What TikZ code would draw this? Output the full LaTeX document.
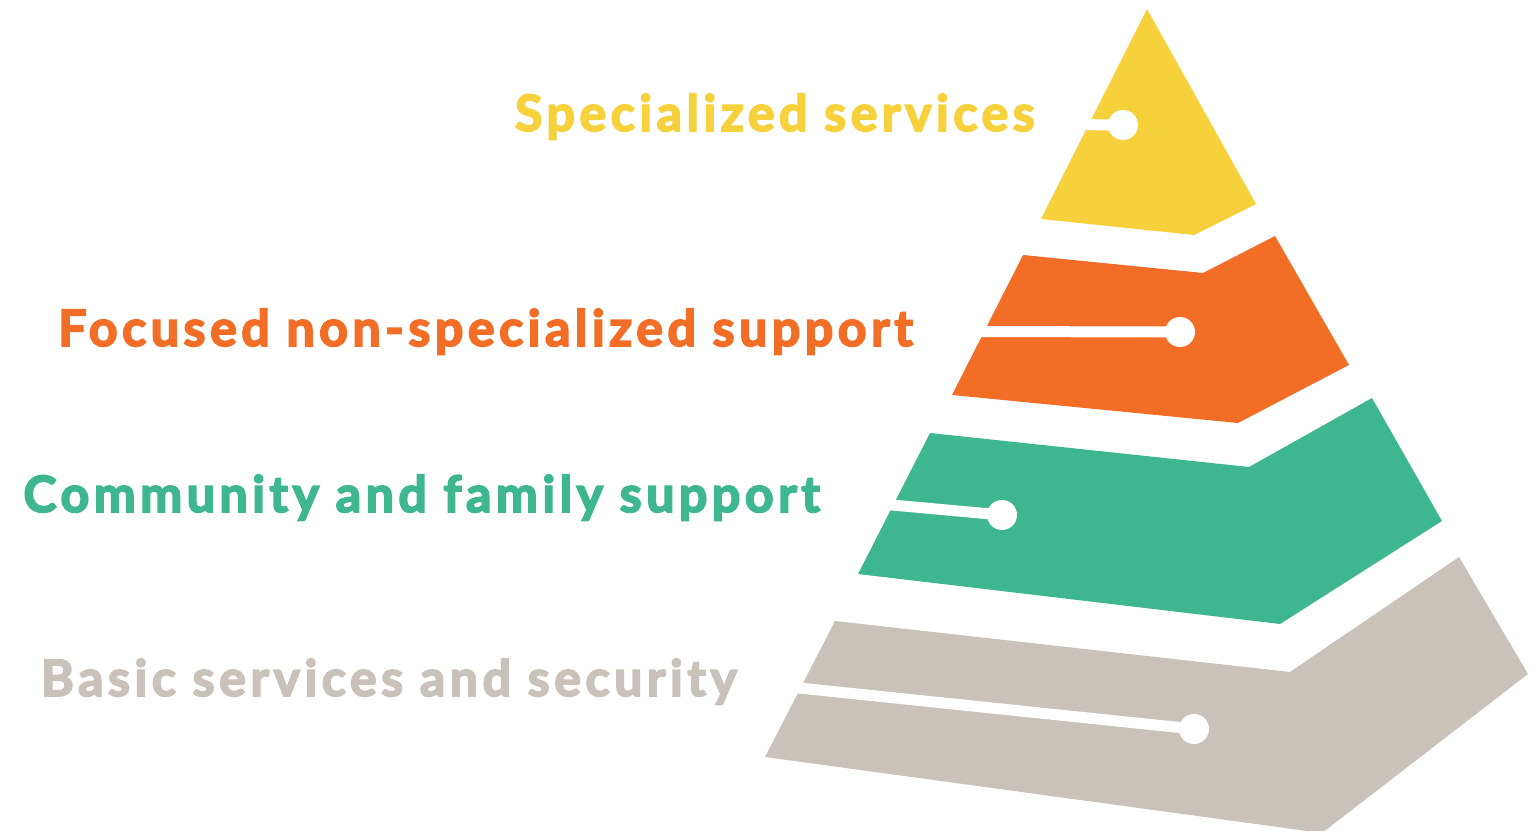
\documentclass[tikz,border=0pt]{standalone}
\usepackage{fontspec}
\setmainfont{Lato}[BoldFeatures={FakeBold=3.5,LetterSpace=9}]
\definecolor{specyellow}{HTML}{F6D13B}
\definecolor{focusorange}{HTML}{F26E27}
\definecolor{commgreen}{HTML}{3EB68F}
\definecolor{basicgrey}{HTML}{C8C2BB}
\begin{document}
\begin{tikzpicture}[x=0.02cm,y=-0.02cm,font=\fontsize{28.5}{28.5}\selectfont\bfseries,
    slot/.style={white,line width=0.22cm},
    dot/.style={circle,fill=white,inner sep=0pt,minimum size=0.6cm},
    tier/.style={anchor=base east,inner sep=0pt}]
    \useasboundingbox (0,0) rectangle (1535,831);
    % pyramid layers
    \fill[specyellow] (1147,9) -- (1256,204) -- (1194,235) -- (1041,219) -- cycle;
    \fill[focusorange] (1023,255) -- (1203,273) -- (1275,236) -- (1349,365) -- (1238,423) -- (952,395) -- cycle;
    \fill[commgreen] (930,433) -- (1249,467) -- (1372,398) -- (1442,521) -- (1280,624) -- (858,574) -- cycle;
    \fill[basicgrey] (835,621) -- (1290,672) -- (1459,557) -- (1528,674) -- (1322,833) -- (765,757) -- cycle;
    % slots with dots
    \node[dot] (specdot) at (1123,125) {};
    \node[dot] (focusdot) at (1180,332) {};
    \node[dot] (commdot) at (1002,515) {};
    \node[dot] (basicdot) at (1194,729) {};
    \coordinate (specin) at (1070,124.5);
    \coordinate (focusin) at (960,331.5);
    \coordinate (commin) at (870,503);
    \coordinate (basicin) at (780,686);
    \draw[slot] (specin) -- (specdot.center);
    \draw[slot] (focusin) -- (focusdot.center);
    \draw[slot] (commin) -- (commdot.center);
    \draw[slot] (basicin) -- (basicdot.center);
    % labels
    \node[tier,text=specyellow] (spec) at (1035,131) {Specialized services};
    \node[tier,text=focusorange] (focus) at (913,346) {Focused non-specialized support};
    \node[tier,text=commgreen] (comm) at (820,512) {Community and family support};
    \node[tier,text=basicgrey] (basic) at (737,696) {Basic services and security};
\end{tikzpicture}
\end{document}
